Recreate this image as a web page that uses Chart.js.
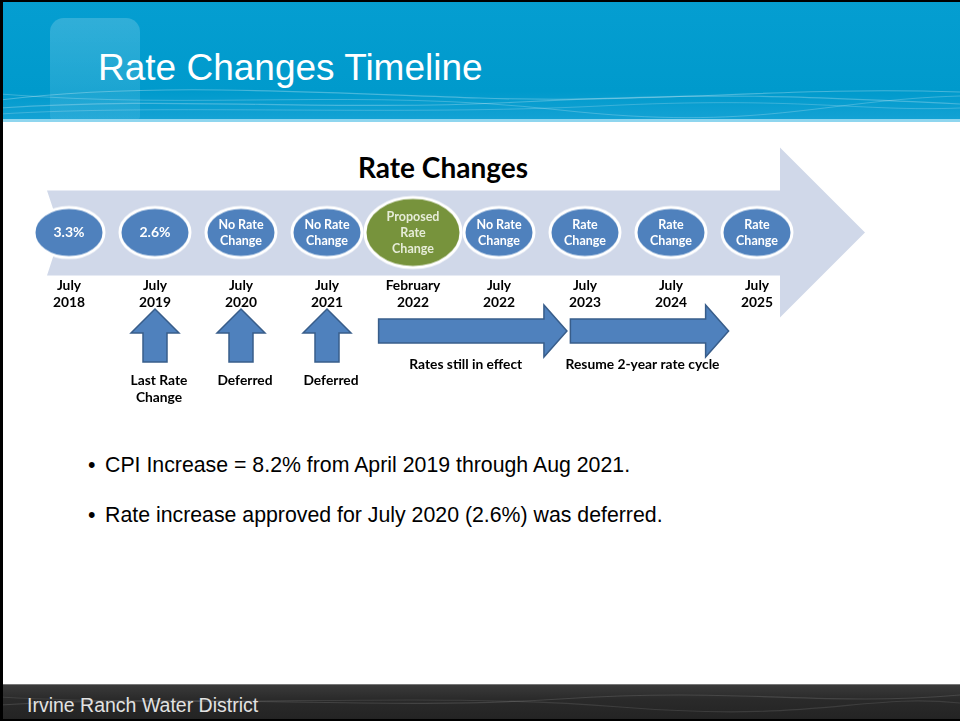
<!DOCTYPE html>
<html>
<head>
<meta charset="utf-8">
<script src="https://cdn.jsdelivr.net/npm/chart.js@4.4.1/dist/chart.umd.min.js"></script>
<style>
  html, body { margin: 0; padding: 0; background: #ffffff; }
  #slide { position: relative; width: 960px; height: 721px; overflow: hidden; background: #ffffff; font-family: "Liberation Sans", Arial, sans-serif; }
  #header { position: absolute; left: 0; top: 0; width: 960px; height: 122px; background: linear-gradient(180deg, #059ed1 0%, #009acc 75%, #16a3d5 100%); }
  #header svg, #footer svg { position: absolute; left: 0; top: 0; }
  #glass { position: absolute; left: 50px; top: 18px; width: 90px; height: 104px; border-radius: 14px 14px 6px 6px; background: linear-gradient(180deg, rgba(255,255,255,0.18), rgba(255,255,255,0.08)); }
  #title { position: absolute; left: 98px; top: 49px; font-size: 37px; line-height: 37px; color: #ffffff; white-space: nowrap; }
  #hline { position: absolute; left: 0; top: 119px; width: 960px; height: 3px; background: #8fd6ef; }
  #footer { position: absolute; left: 0; top: 684px; width: 960px; height: 37px; background: linear-gradient(180deg, #3a3a3a 0%, #2a2a2a 40%, #232323 100%); border-top: 1px solid #777; box-sizing: border-box; }
  #ftext { position: absolute; left: 27px; top: 11px; font-size: 19.5px; line-height: 19.5px; color: #e2e2e2; white-space: nowrap; }
  #lborder { position: absolute; left: 0; top: 0; width: 3px; height: 721px; background: #000; }
  #tborder { position: absolute; left: 0; top: 0; width: 960px; height: 2px; background: #000; }
  #bborder { position: absolute; left: 0; top: 719px; width: 960px; height: 2px; background: #000; }
  #heading { position: absolute; left: 293px; top: 150px; width: 300px; text-align: center; font-family: Lato, "Open Sans", sans-serif; font-weight: bold; font-size: 28px; line-height: 34px; color: #000; }
  .bullet { position: absolute; left: 88px; font-size: 21.3px; line-height: 21px; color: #000; white-space: nowrap; }
  .bullet span { position: absolute; left: 17px; top: 0; }
  #chartCanvas { position: absolute; left: 0; top: 0; }
</style>
</head>
<body>
<div id="slide">
  <div id="header">
    <div id="glass"></div>
    <svg width="960" height="122" viewBox="0 0 960 122">
      <path d="M0 100 C 150 82, 300 92, 480 98 S 780 86, 960 92" fill="none" stroke="rgba(255,255,255,0.28)" stroke-width="1.2"/>
      <path d="M0 108 C 180 96, 320 112, 520 102 S 800 96, 960 104" fill="none" stroke="rgba(255,255,255,0.25)" stroke-width="1.2"/>
      <path d="M0 94 C 200 110, 360 88, 560 110 S 820 100, 960 96" fill="none" stroke="rgba(255,255,255,0.22)" stroke-width="1"/>
      <path d="M0 114 C 160 104, 400 116, 600 106 S 860 112, 960 108" fill="none" stroke="rgba(255,255,255,0.2)" stroke-width="1"/>
    </svg>
    <div id="title">Rate Changes Timeline</div>
  </div>
  <div id="hline"></div>
  <div id="heading">Rate Changes</div>
  <div class="bullet" style="top:455px">•<span>CPI Increase = 8.2% from April 2019 through Aug 2021.</span></div>
  <div class="bullet" style="top:505px">•<span>Rate increase approved for July 2020 (2.6%) was deferred.</span></div>
  <div id="footer">
    <svg width="960" height="37" viewBox="0 0 960 37">
      <path d="M0 20 C 200 8, 380 26, 560 14 S 820 22, 960 10" fill="none" stroke="rgba(255,255,255,0.12)" stroke-width="1.2"/>
      <path d="M0 12 C 220 24, 420 6, 620 22 S 860 8, 960 18" fill="none" stroke="rgba(255,255,255,0.10)" stroke-width="1.2"/>
    </svg>
    <div id="ftext">Irvine Ranch Water District</div>
  </div>
  <div id="lborder"></div>
  <div id="tborder"></div>
  <div id="bborder"></div>
  <canvas id="chartCanvas" width="960" height="721"></canvas>
</div>
<script>
// ---- data ----
const periods = [['July','2018'],['July','2019'],['July','2020'],['July','2021'],['February','2022'],['July','2022'],['July','2023'],['July','2024'],['July','2025']];
const bubbleText = [['3.3%'],['2.6%'],['No Rate','Change'],['No Rate','Change'],['Proposed','Rate','Change'],['No Rate','Change'],['Rate','Change'],['Rate','Change'],['Rate','Change']];
const bubbleKind = ['past','past','none','none','proposed','none','future','future','future'];
const lane = [0,0,0,0,0,0,0,0,0];
const noteAt = [1,2,3];
const noteText = [['Last Rate','Change'],['Deferred'],['Deferred']];
const spanFrom = [3.6, 5.83];
const spanTo = [5.79, 7.67];
const spanText = ['Rates still in effect','Resume 2-year rate cycle'];

// ---- styles ----
const BLUE = '#4f81bd', BLUE_EDGE = '#385d8a', GREEN = '#77933c', TRACK = '#d0d8e9';
const LABEL_FONT = 'Lato, "Open Sans", sans-serif';

function ellipseImage(rx, ry, fill) {
  const c = document.createElement('canvas');
  c.width = Math.ceil(rx * 2 + 6); c.height = Math.ceil(ry * 2 + 6);
  const g = c.getContext('2d');
  g.beginPath();
  g.ellipse(c.width / 2, c.height / 2, rx, ry, 0, 0, Math.PI * 2);
  g.fillStyle = fill; g.fill();
  g.lineWidth = 3; g.strokeStyle = '#ffffff'; g.stroke();
  return c;
}
const pointImages = bubbleKind.map(k => k === 'proposed' ? ellipseImage(48, 35, GREEN) : ellipseImage(35, 25, BLUE));

function upArrow(ctx, x, yTip, yBase, yBottom, headHalf, shaftHalf) {
  ctx.beginPath();
  ctx.moveTo(x, yTip);
  ctx.lineTo(x + headHalf, yBase);
  ctx.lineTo(x + shaftHalf, yBase);
  ctx.lineTo(x + shaftHalf, yBottom);
  ctx.lineTo(x - shaftHalf, yBottom);
  ctx.lineTo(x - shaftHalf, yBase);
  ctx.lineTo(x - headHalf, yBase);
  ctx.closePath();
  ctx.fillStyle = BLUE; ctx.fill();
  ctx.lineWidth = 1.5; ctx.strokeStyle = BLUE_EDGE; ctx.stroke();
}
function rightArrow(ctx, x0, x1, yc, bodyHalf, headHalf, headLen) {
  const hb = x1 - headLen;
  ctx.beginPath();
  ctx.moveTo(x0, yc - bodyHalf);
  ctx.lineTo(hb, yc - bodyHalf);
  ctx.lineTo(hb, yc - headHalf);
  ctx.lineTo(x1, yc);
  ctx.lineTo(hb, yc + headHalf);
  ctx.lineTo(hb, yc + bodyHalf);
  ctx.lineTo(x0, yc + bodyHalf);
  ctx.closePath();
  ctx.fillStyle = BLUE; ctx.fill();
  ctx.lineWidth = 1.5; ctx.strokeStyle = BLUE_EDGE; ctx.stroke();
}

const timelinePlugin = {
  id: 'timelineArt',
  beforeDraw(chart) {
    const ctx = chart.ctx, xs = chart.scales.x, ys = chart.scales.y, a = chart.chartArea;
    const yc = ys.getPixelForValue(0);
    const last = xs.getPixelForValue(periods.length - 1);
    const left = a.left + 21, headBase = last + 23, tip = last + 108;
    const top = yc - 42, bottom = yc + 43;
    ctx.save();
    ctx.beginPath();
    ctx.moveTo(left, top);
    ctx.lineTo(headBase, top);
    ctx.lineTo(headBase, yc - 85);
    ctx.lineTo(tip, yc);
    ctx.lineTo(headBase, yc + 85);
    ctx.lineTo(headBase, bottom);
    ctx.lineTo(left, bottom);
    ctx.lineTo(left + 14, yc);
    ctx.closePath();
    ctx.fillStyle = TRACK; ctx.fill();
    ctx.restore();
  },
  afterDatasetsDraw(chart) {
    const ctx = chart.ctx, xs = chart.scales.x, a = chart.chartArea;
    const meta = chart.getDatasetMeta(0);
    ctx.save();
    ctx.textAlign = 'center'; ctx.textBaseline = 'middle';
    meta.data.forEach((pt, i) => {
      const lines = bubbleText[i];
      const single = lines.length === 1;
      ctx.font = 'bold ' + (single ? 14 : 12.5) + 'px ' + LABEL_FONT;
      ctx.fillStyle = bubbleKind[i] === 'proposed' ? '#e6ecd8' : '#ffffff';
      const step = 16;
      lines.forEach((t, j) => ctx.fillText(t, pt.x, pt.y + (j - (lines.length - 1) / 2) * step));
    });
    const b = a.bottom;
    ctx.font = 'bold 13.8px ' + LABEL_FONT;
    noteAt.forEach((idx, k) => {
      const x = xs.getPixelForValue(idx);
      upArrow(ctx, x, b + 32, b + 56, b + 85, 24, 12);
      ctx.fillStyle = '#000000';
      noteText[k].forEach((t, j) => ctx.fillText(t, x + 4, b + 104 + j * 17));
    });
    spanFrom.forEach((f, k) => {
      const x0 = xs.getPixelForValue(f), x1 = xs.getPixelForValue(spanTo[k]);
      rightArrow(ctx, x0, x1, b + 54, 12, 26, 23);
      ctx.fillStyle = '#000000';
      ctx.fillText(spanText[k], (x0 + x1) / 2 - 7, b + 88);
    });
    ctx.restore();
  }
};

function build() {
  new Chart(document.getElementById('chartCanvas'), {
    type: 'line',
    data: {
      labels: periods,
      datasets: [{
        data: lane,
        showLine: false,
        pointStyle: pointImages,
        pointRadius: 10,
        pointHoverRadius: 10
      }]
    },
    options: {
      responsive: false,
      animation: false,
      devicePixelRatio: 1,
      events: [],
      layout: { padding: { left: 26, right: 160, top: 188, bottom: 0 } },
      plugins: { legend: { display: false }, tooltip: { enabled: false }, title: { display: false } },
      scales: {
        x: {
          type: 'category',
          offset: true,
          grid: { display: false, drawTicks: false, tickLength: 0 },
          border: { display: false },
          ticks: {
            autoSkip: false, maxRotation: 0, minRotation: 0, padding: 0,
            color: '#000000',
            font: { family: LABEL_FONT, weight: 'bold', size: 13.8, lineHeight: 1.23 }
          },
          afterFit(scale) { scale.height = 444; }
        },
        y: { display: false, min: -1, max: 1 }
      }
    },
    plugins: [timelinePlugin]
  });
}
if (document.fonts && document.fonts.load) {
  Promise.all([document.fonts.load('bold 12px Lato'), document.fonts.load('12px "Liberation Sans"')]).then(build, build);
} else { build(); }
</script>
</body>
</html>
